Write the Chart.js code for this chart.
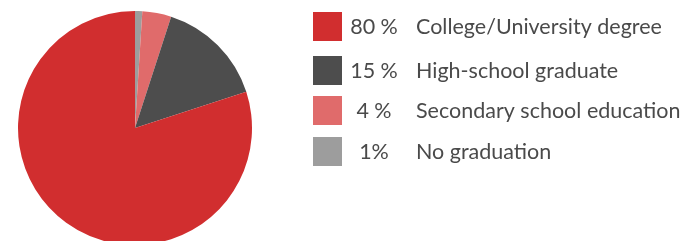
<!DOCTYPE html>
<html>
<head>
<meta charset="utf-8">
<script src="https://cdn.jsdelivr.net/npm/chart.js@4"></script>
<style>
    html, body { margin: 0; padding: 0; background: #fff; overflow: hidden; width: 683px; height: 241px; }
    canvas { display: block; }
</style>
</head>
<body>
<canvas id="pieChart" width="683" height="255"></canvas>
<script>
// data, in legend order
const labels = ['College/University degree', 'High-school graduate', 'Secondary school education', 'No graduation'];
const values = [80, 15, 4, 1];
const pctLabels = ['80 %', '15 %', '4 %', '1%'];
const colors = ['#d12e2f', '#4d4d4d', '#e06b6b', '#9d9d9d'];

// the pie runs clockwise from the top starting with the smallest slice
const order = [3, 2, 1, 0];

const legendPlugin = {
    id: 'sideLegend',
    afterDraw(chart) {
        const ctx = chart.ctx;
        const rowTops = [12, 56, 96, 137];
        ctx.save();
        ctx.font = '21.5px Lato';
        ctx.textBaseline = 'middle';
        labels.forEach((label, i) => {
            const top = rowTops[i];
            ctx.fillStyle = colors[i];
            ctx.fillRect(313, top, 29, 29);
            ctx.fillStyle = '#4a4a4a';
            ctx.textAlign = 'center';
            ctx.fillText(pctLabels[i], 374, top + 15);
            ctx.textAlign = 'left';
            ctx.fillText(label, 416, top + 15, 266);
        });
        ctx.restore();
    }
};

new Chart(document.getElementById('pieChart'), {
    type: 'pie',
    data: {
        labels: order.map(i => labels[i]),
        datasets: [{
            data: order.map(i => values[i]),
            backgroundColor: order.map(i => colors[i]),
            borderWidth: 0
        }]
    },
    options: {
        responsive: false,
        animation: false,
        events: [],
        layout: { padding: { left: 18, top: 11, right: 431, bottom: 10 } },
        plugins: {
            legend: { display: false },
            tooltip: { enabled: false }
        }
    },
    plugins: [legendPlugin]
});
</script>
</body>
</html>
